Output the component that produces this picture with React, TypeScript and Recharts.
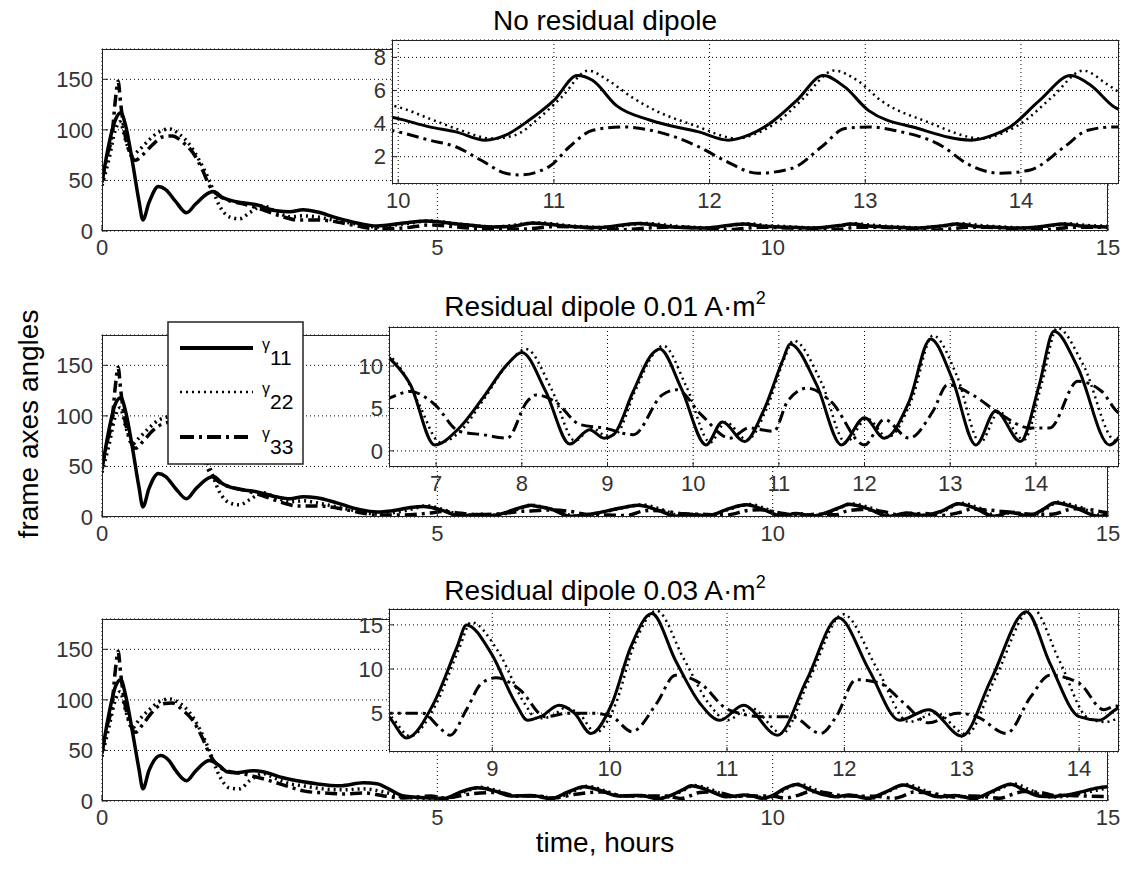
import { LineChart, Line, XAxis, YAxis, CartesianGrid } from "recharts";

type Pt = [number, number];

// ---------- main panels: part of the run before the zoom window ----------
const p1Early11: Pt[] = [[0,48],[0.1,85],[0.2,110],[0.28,117],[0.35,105],[0.45,70],[0.55,30],[0.61,11],[0.7,28],[0.84,44],[0.95,41],[1.1,29],[1.26,18],[1.4,27],[1.6,38],[1.66,39],[1.8,33],[2.0,29],[2.3,26],[2.6,20],[2.8,19],[3.0,21],[3.2,19],[3.5,13],[3.8,8],[4.1,5],[4.5,8],[4.84,10],[5.3,7],[5.82,4],[6.1,4.5],[6.42,8],[6.9,5],[7.4,3.5],[8.0,7.5],[8.5,4],[8.97,3],[9.57,7],[9.8,5.2]];
const p1Early22: Pt[] = [[0,45],[0.1,70],[0.2,100],[0.27,108],[0.35,90],[0.45,75],[0.55,80],[0.7,90],[0.85,98],[1.0,101],[1.15,96],[1.3,86],[1.45,70],[1.6,50],[1.75,25],[1.9,14],[2.05,12],[2.2,18],[2.4,25],[2.6,19],[2.8,14],[3.0,15],[3.2,14],[3.5,10],[3.8,7],[4.1,4],[4.5,7],[4.9,10],[5.3,7],[5.85,4],[6.5,8],[7.0,5],[7.45,3.5],[8.1,7.5],[8.6,4.5],[9.05,3.2],[9.65,7.2],[9.8,6.2]];
const p1Early33: Pt[] = [[0,50],[0.08,75],[0.15,95],[0.2,130],[0.24,148],[0.28,125],[0.33,100],[0.4,80],[0.5,70],[0.6,75],[0.75,85],[0.9,93],[1.05,94],[1.2,88],[1.35,78],[1.5,60],[1.6,45],[1.7,37],[1.85,31],[2.1,27],[2.4,21],[2.7,14],[2.9,11],[3.2,11],[3.5,9],[3.8,5],[4.1,2],[4.5,3],[4.9,6],[5.3,4],[5.8,1.5],[6.3,2],[6.8,4.5],[7.3,3],[7.7,1.2],[8.2,3.2],[8.5,4],[9.0,2.6],[9.3,1.2],[9.8,3.6]];
const p1Tail11: Pt[] = [[14.85,4.2],[15,3.9]];
const p1Tail22: Pt[] = [[14.85,5.0],[15,4.6]];
const p1Tail33: Pt[] = [[14.85,3.7],[15,3.5]];

const p2Early11: Pt[] = [[0,47],[0.1,85],[0.2,112],[0.28,118],[0.35,105],[0.45,70],[0.55,30],[0.61,10],[0.7,28],[0.84,43],[0.95,40],[1.1,28],[1.26,18],[1.4,28],[1.6,39],[1.66,40],[1.8,33],[2.0,28],[2.3,25],[2.6,20],[2.8,18],[3.0,20],[3.2,19],[3.5,14],[3.8,8],[4.1,5],[4.4,7],[4.6,9.5],[4.8,10.5],[5.05,7],[5.35,1],[5.6,2.5],[5.8,1.5],[6.0,4],[6.2,8.5],[6.35,11.2]];
const p2Early22: Pt[] = [[0,44],[0.1,70],[0.2,100],[0.27,108],[0.35,90],[0.45,72],[0.55,78],[0.7,88],[0.85,96],[1.0,99],[1.15,95],[1.3,85],[1.45,70],[1.6,50],[1.75,25],[1.9,14],[2.05,12],[2.2,17],[2.4,24],[2.6,19],[2.8,15],[3.0,16],[3.2,14],[3.5,10],[3.8,6],[4.1,3],[4.5,6],[4.85,11],[5.1,7],[5.4,1.5],[5.65,2.7],[5.85,1.8],[6.05,4],[6.25,9],[6.38,11.8]];
const p2Early33: Pt[] = [[0,50],[0.08,75],[0.15,95],[0.2,130],[0.24,148],[0.28,125],[0.33,100],[0.4,80],[0.5,68],[0.6,74],[0.75,85],[0.9,92],[1.05,94],[1.2,88],[1.35,78],[1.5,60],[1.6,45],[1.7,37],[1.85,31],[2.1,27],[2.4,21],[2.7,14],[2.9,11],[3.2,11],[3.5,9],[3.8,5],[4.1,2],[4.5,2],[4.9,4],[5.1,5.5],[5.3,4],[5.6,2.5],[5.9,3],[6.1,4.5],[6.3,5.8]];

const p3Early11: Pt[] = [[0,47],[0.1,85],[0.2,113],[0.28,120],[0.35,105],[0.45,70],[0.55,32],[0.61,12],[0.7,30],[0.87,45],[1.0,40],[1.1,30],[1.26,20],[1.4,30],[1.6,40],[1.75,35],[1.86,29],[2.0,28],[2.25,30],[2.4,29],[2.7,23],[3.0,19],[3.2,17],[3.55,15],[3.9,18],[4.1,17],[4.3,11],[4.5,5],[4.9,3],[5.1,2.5],[5.35,9],[5.6,13],[5.85,10],[6.1,5],[6.4,5.5],[6.7,2.5],[6.95,9],[7.19,14],[7.45,10],[7.7,5],[7.95,5.5]];
const p3Early22: Pt[] = [[0,44],[0.1,72],[0.2,100],[0.27,108],[0.35,90],[0.45,72],[0.55,80],[0.7,90],[0.85,98],[1.0,101],[1.15,97],[1.3,88],[1.45,72],[1.6,50],[1.75,25],[1.9,13],[2.05,12],[2.2,20],[2.4,27],[2.6,22],[2.8,17],[3.0,15],[3.3,12],[3.6,11],[3.9,12],[4.2,9],[4.5,4],[4.9,2.5],[5.15,2.8],[5.4,9],[5.65,13.5],[5.9,10],[6.15,5],[6.45,5],[6.75,2.7],[7.0,9],[7.24,14.5],[7.5,10],[7.75,5],[7.95,5.2]];
const p3Early33: Pt[] = [[0,50],[0.08,75],[0.15,95],[0.2,130],[0.24,148],[0.28,125],[0.33,100],[0.4,80],[0.5,68],[0.6,75],[0.75,88],[0.9,96],[1.05,97],[1.2,90],[1.35,80],[1.5,62],[1.6,47],[1.7,37],[1.85,30],[2.1,27],[2.4,22],[2.7,16],[3.0,10],[3.3,8],[3.6,7],[3.9,8],[4.2,5],[4.5,3],[4.9,5],[5.1,3],[5.5,7],[5.9,8.5],[6.2,5],[6.5,5],[6.7,3],[7.1,7],[7.45,9],[7.8,5],[7.95,5]];
const p3Tail11: Pt[] = [[14.6,9],[14.85,13],[15,14]];
const p3Tail22: Pt[] = [[14.6,7.5],[14.85,11],[15,13]];
const p3Tail33: Pt[] = [[14.6,5],[15,4.5]];

// ---------- zoomed windows (insets) ----------
const in1G11: Pt[] = [[9.9,4.5],[10.0,4.3],[10.2,3.8],[10.37,3.5],[10.56,3.0],[10.69,3.3],[10.84,4.2],[11.0,5.4],[11.15,6.9],[11.25,6.6],[11.4,5.1],[11.62,4.2],[11.93,3.5],[12.12,3.0],[12.25,3.3],[12.4,4.1],[12.56,5.4],[12.73,6.9],[12.87,6.2],[13.02,4.8],[13.34,3.7],[13.68,3.0],[13.82,3.3],[13.93,3.8],[14.12,5.4],[14.32,6.9],[14.45,6.3],[14.6,5.0],[14.7,4.6]];
const in1G22: Pt[] = [[9.9,5.2],[10.0,5.0],[10.2,4.3],[10.4,3.6],[10.6,3.1],[10.75,3.3],[10.9,4.3],[11.05,5.6],[11.22,7.2],[11.35,6.6],[11.5,5.6],[11.65,4.8],[11.9,3.9],[12.18,3.1],[12.3,3.4],[12.45,4.2],[12.6,5.5],[12.8,7.2],[12.95,6.6],[13.1,5.4],[13.4,4.1],[13.75,3.1],[13.9,3.5],[14.0,4.0],[14.2,5.6],[14.4,7.2],[14.55,6.4],[14.7,5.4]];
const in1G33: Pt[] = [[9.9,3.7],[10.0,3.5],[10.2,3.0],[10.37,2.6],[10.53,1.8],[10.69,1.0],[10.78,0.9],[10.97,1.4],[11.1,2.6],[11.25,3.6],[11.44,3.8],[11.62,3.6],[11.93,2.6],[12.09,1.8],[12.31,1.0],[12.53,1.3],[12.72,2.6],[12.87,3.7],[13.03,3.8],[13.18,3.6],[13.5,2.6],[13.65,1.6],[13.87,1.0],[14.06,1.2],[14.28,2.6],[14.43,3.6],[14.6,3.8],[14.7,3.8]];

const in2G11: Pt[] = [[6.4,11.5],[6.45,11.0],[6.7,7.8],[6.98,0.7],[7.27,2.7],[7.55,6.3],[7.83,10.2],[8.0,11.6],[8.28,7.0],[8.56,0.8],[8.79,2.5],[8.96,1.5],[9.07,1.9],[9.3,7.0],[9.52,11.4],[9.61,12.0],[9.86,7.4],[10.15,0.7],[10.34,3.4],[10.6,1.1],[10.82,4.7],[11.05,10.8],[11.13,12.6],[11.44,7.8],[11.73,0.7],[12.0,3.9],[12.23,1.5],[12.52,5.8],[12.77,13.2],[13.02,8.6],[13.3,0.7],[13.53,4.7],[13.82,1.1],[14.04,7.8],[14.21,14.1],[14.49,9.8],[14.86,0.7],[15.0,2.0]];
const in2G22: Pt[] = [[6.4,12.0],[6.45,11.4],[6.6,9.5],[6.8,5.5],[7.05,1.0],[7.3,2.5],[7.55,6.0],[7.85,10.4],[8.05,12.0],[8.35,7.2],[8.62,1.2],[8.82,2.7],[8.98,1.8],[9.1,2.0],[9.32,7.0],[9.55,11.6],[9.65,12.4],[9.92,7.6],[10.2,1.0],[10.38,3.4],[10.63,1.3],[10.85,4.8],[11.07,11.0],[11.17,13.0],[11.5,8.0],[11.78,1.0],[12.03,3.8],[12.27,1.6],[12.55,6.0],[12.8,13.6],[13.08,8.8],[13.35,1.0],[13.57,4.6],[13.86,1.3],[14.07,8.0],[14.25,14.5],[14.55,10.2],[14.93,1.2],[15.0,1.8]];
const in2G33: Pt[] = [[6.4,6.0],[6.45,6.2],[6.7,7.0],[6.98,5.5],[7.27,2.3],[7.55,1.9],[7.83,1.5],[8.06,5.8],[8.17,6.6],[8.39,5.8],[8.68,3.1],[8.96,2.7],[9.3,1.9],[9.64,6.6],[9.81,7.2],[10.09,4.3],[10.43,1.5],[10.65,2.7],[10.94,2.3],[11.1,5.8],[11.33,7.4],[11.61,5.8],[12.0,0.7],[12.23,3.7],[12.52,1.5],[12.8,4.7],[12.97,7.8],[13.26,6.6],[13.59,4.3],[13.93,2.7],[14.16,2.7],[14.49,8.2],[14.77,7.0],[14.94,4.7],[15.0,4.2]];

const in3G11: Pt[] = [[8.05,5.5],[8.12,4.6],[8.27,2.2],[8.5,6.1],[8.7,12.5],[8.78,15.0],[8.99,11.8],[9.2,6.1],[9.3,4.2],[9.41,4.6],[9.57,5.9],[9.7,5.0],[9.84,2.7],[10.02,6.1],[10.18,12.5],[10.36,16.3],[10.56,11.0],[10.77,6.1],[10.94,4.2],[11.14,5.9],[11.43,2.5],[11.68,8.8],[11.95,15.8],[12.21,9.9],[12.47,4.2],[12.72,5.4],[13.0,2.4],[13.25,8.8],[13.55,16.5],[13.75,10.7],[14.0,4.6],[14.17,4.2],[14.31,5.4],[14.4,6.0]];
const in3G22: Pt[] = [[8.05,5.2],[8.12,4.8],[8.3,2.4],[8.52,6.0],[8.72,12.4],[8.82,15.3],[9.05,12.0],[9.28,6.0],[9.38,4.4],[9.5,4.6],[9.62,5.6],[9.75,4.8],[9.88,2.8],[10.05,6.0],[10.2,12.4],[10.4,16.6],[10.63,11.2],[10.85,6.0],[11.0,4.2],[11.2,5.6],[11.47,2.7],[11.7,8.8],[11.99,16.2],[12.28,10.0],[12.55,4.0],[12.78,5.0],[13.04,2.6],[13.28,8.8],[13.6,16.9],[13.83,11.0],[14.08,4.4],[14.22,4.0],[14.4,5.0]];
const in3G33: Pt[] = [[8.05,5.0],[8.12,5.0],[8.41,5.0],[8.54,3.5],[8.64,2.5],[8.78,5.4],[8.91,8.4],[9.03,9.0],[9.24,7.6],[9.45,4.6],[9.65,5.0],[9.86,5.0],[10.02,4.6],[10.19,2.9],[10.4,6.1],[10.56,9.3],[10.77,8.4],[11.01,5.4],[11.31,4.6],[11.55,4.6],[11.8,2.7],[11.93,4.6],[12.1,8.8],[12.3,8.4],[12.51,6.1],[12.72,3.9],[12.96,5.0],[13.13,4.6],[13.38,2.7],[13.59,6.9],[13.75,9.3],[14.0,8.4],[14.21,5.4],[14.31,5.8],[14.4,5.6]];

const mainTicksX = [0, 5, 10, 15];
const mainTicksY = [0, 50, 100, 150];
const titles = ["No residual dipole", "Residual dipole 0.01 A·m", "Residual dipole 0.03 A·m"];
const legendNames = ["11", "22", "33"];

const FONT = '"Liberation Sans", Arial, Helvetica, sans-serif';
const tickStyle = { fontSize: 22, fill: "#333", fontFamily: FONT };

const lineStyles = [
  { strokeWidth: 3 },
  { strokeWidth: 2.5, strokeDasharray: "2 4" },
  { strokeWidth: 3, strokeDasharray: "12 5 3 5" },
];

const rows = (...parts: Pt[][]) => parts.flat().map(([t, v]) => ({ t, v }));

type Box = { x: number; y: number; w: number; h: number };

function Panel({
  box, xDomain, yDomain, xTicks, yTicks, series, inset, width = 0,
}: {
  box: Box; xDomain: [number, number]; yDomain: [number, number];
  xTicks: number[]; yTicks: number[]; series: { t: number; v: number }[][];
  inset?: boolean; width?: number;
}) {
  const YW = 60, XH = 40, MT = 10, MR = 20, TS = inset ? -5 : -6;
  const axisCommon = { axisLine: false, tickSize: TS, interval: 0 as const, allowDataOverflow: true, type: "number" as const };
  const tickLine = { stroke: "#222", strokeWidth: 1 };
  return (
    <>
      {inset && (
        <div style={{ position: "absolute", left: box.x, top: box.y, width: box.w, height: box.h, background: "#fff" }} />
      )}
      <div style={{ position: "absolute", left: box.x - YW, top: box.y - MT }}>
        <LineChart width={box.w + YW + MR} height={box.h + MT + XH} margin={{ top: MT, right: MR, left: 0, bottom: 0 }}>
          <CartesianGrid stroke="#000" strokeDasharray="1 3" />
          <XAxis dataKey="t" domain={xDomain} ticks={xTicks} height={XH} {...axisCommon}
            tickLine={tickLine} tickMargin={8 - TS} tick={tickStyle} />
          <XAxis xAxisId="top" orientation="top" dataKey="t" domain={xDomain} ticks={xTicks} height={0} {...axisCommon}
            tickLine={tickLine} tick={false} />
          <YAxis domain={yDomain} ticks={yTicks} width={YW} {...axisCommon}
            tickLine={tickLine} tickMargin={(inset ? 6 : 9) - TS} tick={tickStyle} />
          <YAxis yAxisId="right" orientation="right" domain={yDomain} ticks={yTicks} width={0} {...axisCommon}
            tickLine={tickLine} tick={false} />
          {series.map((d, i) => (
            <Line key={i} data={d} dataKey="v" type="monotone" stroke="#000" dot={false}
              isAnimationActive={false} strokeLinejoin="round" {...lineStyles[i]}
              strokeWidth={width || lineStyles[i].strokeWidth} />
          ))}
        </LineChart>
      </div>
      <div style={{ position: "absolute", left: box.x, top: box.y, width: box.w, height: box.h, border: "1.5px solid #222", boxSizing: "border-box" }} />
    </>
  );
}

export default function App() {
  const mainBoxes: Box[] = [
    { x: 102, y: 49, w: 1006, h: 182 },
    { x: 102, y: 335, w: 1006, h: 182 },
    { x: 102, y: 619, w: 1006, h: 182 },
  ];
  const insetBoxes: Box[] = [
    { x: 392, y: 40, w: 727, h: 144 },
    { x: 389, y: 327, w: 730, h: 140 },
    { x: 389, y: 609, w: 730, h: 143 },
  ];
  const mainSeries = [
    [rows(p1Early11, in1G11, p1Tail11), rows(p1Early22, in1G22, p1Tail22), rows(p1Early33, in1G33, p1Tail33)],
    [rows(p2Early11, in2G11), rows(p2Early22, in2G22), rows(p2Early33, in2G33)],
    [rows(p3Early11, in3G11, p3Tail11), rows(p3Early22, in3G22, p3Tail22), rows(p3Early33, in3G33, p3Tail33)],
  ];
  const insetSeries = [
    [rows(in1G11), rows(in1G22), rows(in1G33)],
    [rows(in2G11), rows(in2G22), rows(in2G33)],
    [rows(in3G11), rows(in3G22), rows(in3G33)],
  ];
  const insetX: [number, number][] = [[9.96, 14.63], [6.45, 14.97], [8.12, 14.34]];
  const insetY: [number, number][] = [[0.35, 9.05], [-1.9, 14.6], [0.6, 16.8]];
  const insetTicksX = [[10, 11, 12, 13, 14], [7, 8, 9, 10, 11, 12, 13, 14], [9, 10, 11, 12, 13, 14]];
  const insetTicksY = [[2, 4, 6, 8], [0, 5, 10], [5, 10, 15]];
  const legendY = [348, 392, 437];

  return (
    <div style={{ position: "absolute", left: 0, top: 0, width: 1123, height: 869, background: "#fff", overflow: "hidden" }}>
      {mainBoxes.map((b, i) => (
        <Panel key={"m" + i} box={b} xDomain={[0, 15]} yDomain={[0, 180]} xTicks={mainTicksX} yTicks={mainTicksY}
          series={mainSeries[i]} width={3.5} />
      ))}
      {insetBoxes.map((b, i) => (
        <Panel key={"i" + i} box={b} inset xDomain={insetX[i]} yDomain={insetY[i]} xTicks={insetTicksX[i]}
          yTicks={insetTicksY[i]} series={insetSeries[i]} />
      ))}
      <svg width={1123} height={869} style={{ position: "absolute", left: 0, top: 0, pointerEvents: "none" }} fontFamily={FONT}>
        {titles.map((t, i) => (
          <text key={t} x={605} y={[30, 316, 600][i]} textAnchor="middle" fontSize={28} fill="#000">
            {t}
            {i > 0 && <tspan dy={-12} fontSize={18}>2</tspan>}
          </text>
        ))}
        <text x={38} y={424} transform="rotate(-90 38 424)" textAnchor="middle" fontSize={28} fill="#000">frame axes angles</text>
        <text x={605} y={852} textAnchor="middle" fontSize={28} fill="#000">time, hours</text>
        <rect x={168} y={322} width={135} height={142} fill="#fff" stroke="#222" strokeWidth={1.5} />
        {legendNames.map((n, i) => (
          <g key={n}>
            <line x1={180} x2={253} y1={legendY[i]} y2={legendY[i]} stroke="#000"
              strokeWidth={i === 1 ? 2.5 : 4} strokeDasharray={i === 1 ? "2 4" : i === 2 ? "14 5 3 5" : undefined} />
            <text x={262} y={legendY[i] + 2} fontSize={16} fill="#000">
              γ<tspan dy={15} fontSize={21}>{n}</tspan>
            </text>
          </g>
        ))}
      </svg>
    </div>
  );
}
